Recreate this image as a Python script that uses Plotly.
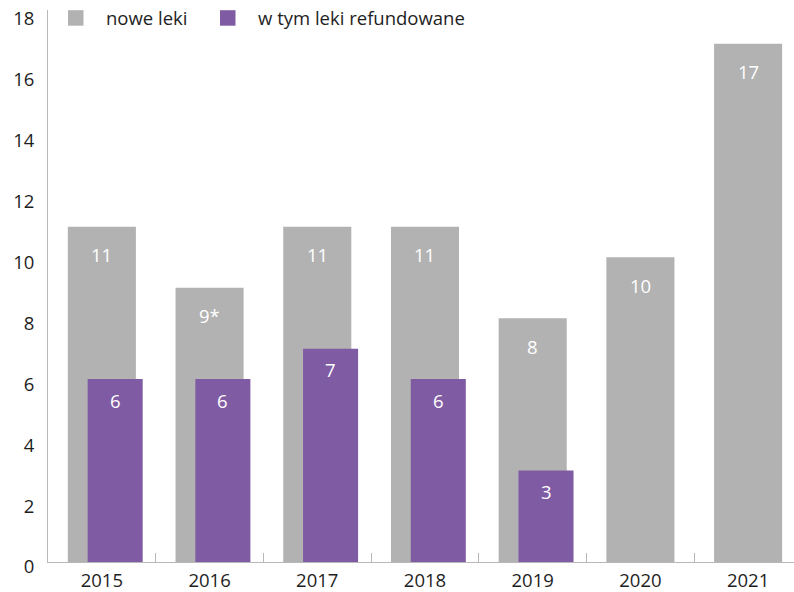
import plotly.graph_objects as go

# Data
years = ["2015", "2016", "2017", "2018", "2019", "2020", "2021"]
new_drugs = [11, 9, 11, 11, 8, 10, 17]
new_drugs_notes = ["", "*", "", "", "", "", ""]
reimbursed = [6, 6, 7, 6, 3]
y_ticks = [0, 2, 4, 6, 8, 10, 12, 14, 16, 18]

series_names = ["nowe leki", "w tym leki refundowane"]

GRAY = "#b2b2b2"
PURPLE = "#7f5ba3"
TEXT = "#1e1e1e"
AXIS = "#b8b8b8"
FONT = "Open Sans"
FS = 18.5

W, H = 794, 592
M_L, M_R, M_T, M_B = 48, 0, 10, 30
PLOT_W = W - M_L - M_R
PLOT_H = H - M_T - M_B
X_RANGE = [-0.5, 6.426]


def px_x(px):
    return (px - M_L) / PLOT_W


def px_y(py):
    return (H - M_B - py) / PLOT_H


GRAY_W, GRAY_OFF = 0.632, -0.316
PURP_W, PURP_OFF = 0.511, -0.132

fig = go.Figure()
fig.add_trace(go.Bar(
    x=years, y=new_drugs, width=GRAY_W, offset=GRAY_OFF,
    marker=dict(color=GRAY, line=dict(width=0)),
    name=series_names[0], showlegend=False, hoverinfo="x+y",
))
fig.add_trace(go.Bar(
    x=years[:len(reimbursed)], y=reimbursed, width=PURP_W, offset=PURP_OFF,
    marker=dict(color=PURPLE, line=dict(width=0)),
    name=series_names[1], showlegend=False, hoverinfo="x+y",
))

# value labels inside the bars (x given as category index)
for i, (v, note) in enumerate(zip(new_drugs, new_drugs_notes)):
    fig.add_annotation(
        x=i + GRAY_OFF + GRAY_W / 2, y=v, xref="x", yref="y",
        text=f"{v}{note}", showarrow=False,
        yanchor="middle", yshift=-28,
        font=dict(family=FONT, size=FS, color="white"),
    )
for i, v in enumerate(reimbursed):
    fig.add_annotation(
        x=i + PURP_OFF + PURP_W / 2, y=v, xref="x", yref="y",
        text=f"{v}", showarrow=False,
        yanchor="middle", yshift=-21,
        font=dict(family=FONT, size=FS, color="white"),
    )

# legend drawn as squares + text
legend_items = [(68, 106, GRAY), (220, 258, PURPLE)]
for (sx, tx, col), name in zip(legend_items, series_names):
    fig.add_shape(
        type="rect", xref="paper", yref="paper",
        x0=px_x(sx), x1=px_x(sx + 15.5), y0=px_y(25.7), y1=px_y(10.2),
        fillcolor=col, line=dict(width=0),
    )
    fig.add_annotation(
        x=px_x(tx - 2), y=px_y(18), xref="paper", yref="paper",
        text=name, showarrow=False, xanchor="left", yanchor="middle",
        font=dict(family=FONT, size=FS, color=TEXT),
    )

fig.update_layout(
    width=W, height=H,
    margin=dict(l=M_L, r=M_R, t=M_T, b=M_B, pad=0),
    barmode="overlay",
    plot_bgcolor="white", paper_bgcolor="white",
    font=dict(family=FONT, size=FS, color=TEXT),
    showlegend=False,
    xaxis=dict(
        type="category", range=X_RANGE,
        showline=True, linecolor=AXIS, linewidth=1,
        ticks="inside", tickson="boundaries", ticklen=9, tickcolor=AXIS,
        showgrid=False, zeroline=False, ticklabelstandoff=2,
        tickfont=dict(family=FONT, size=FS, color=TEXT),
    ),
    yaxis=dict(
        range=[0, 18.11], tickvals=y_ticks,
        showline=True, linecolor=AXIS, linewidth=1,
        ticks="", showgrid=False, zeroline=False,
        ticklabelshift=5, ticklabelstandoff=9,
        tickfont=dict(family=FONT, size=FS, color=TEXT),
    ),
)

fig.write_html("out.html")
